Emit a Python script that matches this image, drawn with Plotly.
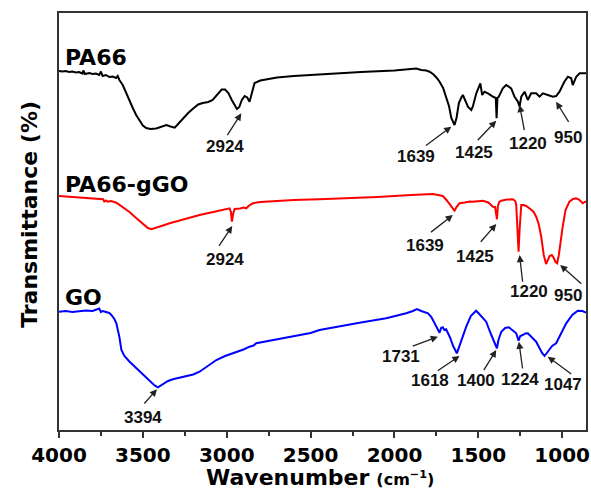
import plotly.graph_objects as go

# ---------------- data (wavenumber cm-1, transmittance a.u., offset stacked) -------------
pa66_wn = [4000, 3980, 3960, 3940, 3920, 3900, 3880, 3860, 3855, 3845, 3820, 3800, 3780, 3760, 3750,
           3740, 3720, 3700, 3680, 3660, 3650, 3640, 3620, 3600, 3580, 3560, 3540, 3520, 3500, 3480,
           3454, 3420, 3390, 3360, 3335, 3310, 3290, 3260, 3230, 3200, 3170, 3143, 3110, 3084, 3055,
           3030, 3010, 2990, 2970, 2950, 2939, 2925, 2910, 2893, 2878, 2864, 2850, 2834, 2800, 2764,
           2700, 2600, 2500, 2400, 2200, 2000, 1900, 1870, 1840, 1810, 1791, 1770, 1750, 1731, 1710,
           1691, 1675, 1661, 1650, 1642, 1630, 1616, 1600, 1592, 1562, 1542, 1533, 1512, 1488, 1477,
           1463, 1443, 1413, 1396, 1391, 1386, 1378, 1354, 1334, 1304, 1284, 1264, 1254, 1244, 1224,
           1205, 1185, 1155, 1135, 1115, 1086, 1056, 1036, 1016, 987, 966, 946, 937, 916, 896,
           857]
pa66_t = [359, 358.5, 359, 358, 358.5, 357.5, 358, 356.5, 359.5, 356, 357, 356, 356.5, 355, 358.5,
          354, 355, 353, 353.5, 352, 354, 350, 345, 337, 329, 322, 315, 309, 304.5, 302,
          301, 301.5, 303.5, 305, 303.5, 302.3, 306, 312, 317, 321.5, 325.5, 327, 328, 330, 336,
          340.5, 340.5, 337, 330, 324, 321, 323, 330, 334, 332.5, 328.3, 337, 347, 349.5, 350.7,
          352.5, 354, 355, 356.5, 358, 359.5, 360.5, 361.5, 360, 359.5, 358.3, 356, 352.5, 348.3, 342,
          333.3, 324, 312, 307, 305, 312, 327, 333, 335, 323.3, 320, 323.3, 336.7, 346.7, 335,
          338.3, 336.7, 333.3, 332, 311.7, 332, 333.3, 341.7, 345, 341.7, 333.3, 328.3, 323.3, 333.3, 338.3,
          330, 336.7, 336.7, 333.3, 336.7, 335, 333.3, 334, 338.3, 348.3, 353.3, 351.7, 345, 353.3, 356.7,
          356.7]

ggo_wn = [4000, 3900, 3800, 3737, 3730, 3720, 3710, 3690, 3658, 3620, 3580, 3540, 3500, 3470, 3449,
          3420, 3380, 3340, 3250, 3162, 3080, 3023, 2983, 2975, 2969, 2962, 2953, 2920, 2900, 2883,
          2870, 2844, 2800, 2700, 2600, 2450, 2300, 2100, 1900, 1800, 1771, 1740, 1712, 1690, 1665,
          1650, 1642, 1630, 1612, 1580, 1550, 1533, 1500, 1473, 1440, 1413, 1400, 1393, 1389, 1383,
          1375, 1363, 1330, 1294, 1280, 1274, 1266, 1260, 1254, 1244, 1230, 1215, 1190, 1170, 1155,
          1140, 1125, 1110, 1096, 1085, 1075, 1062, 1050, 1040, 1030, 1020, 1010, 997, 980, 957,
          935, 917, 900, 885, 877, 866, 857]
ggo_t = [234, 233, 232, 230.7, 228.5, 229.5, 228.3, 229, 227.3, 223, 218, 212, 206, 202, 200.7,
         202, 204.5, 206.7, 211, 215, 218, 220, 221.7, 218, 208.3, 216, 221, 221.5, 222.5, 221.7,
         224, 226.7, 228, 229, 230, 230.7, 231.5, 233, 235, 235.5, 236, 235, 234, 230, 225,
         221, 219.3, 223, 226.7, 227.5, 228.5, 228.3, 229, 229.3, 227.5, 223.3, 223, 216, 210.7, 224,
         228, 229.3, 230.5, 230.7, 229, 225, 200, 178.3, 200, 225, 225, 224, 221, 218, 213.3,
         206, 193.3, 175, 166, 170, 174, 175, 172, 168, 166.7, 175, 188, 203.3, 220, 228.3,
         231, 231.7, 230.5, 228, 226.7, 228, 228.3]

go_wn = [4000, 3960, 3920, 3880, 3840, 3800, 3780, 3760, 3750, 3740, 3720, 3700, 3688, 3670, 3658,
         3640, 3628, 3610, 3579, 3540, 3499, 3460, 3430, 3410, 3380, 3350, 3321, 3261, 3200, 3162,
         3110, 3062, 3010, 2963, 2940, 2920, 2900, 2864, 2840, 2824, 2750, 2665, 2500, 2447, 2387,
         2200, 2049, 1960, 1930, 1890, 1866, 1840, 1800, 1780, 1761, 1745, 1731, 1722, 1712, 1702,
         1692, 1670, 1650, 1628, 1610, 1590, 1572, 1545, 1520, 1513, 1500, 1480, 1453, 1430, 1413,
         1400, 1389, 1380, 1363, 1340, 1318, 1295, 1274, 1260, 1250, 1235, 1220, 1205, 1180, 1155,
         1145, 1135, 1120, 1105, 1080, 1060, 1036, 1010, 976, 940, 907, 880, 857]
go_t = [118.3, 119, 118, 118.5, 119.5, 119, 120, 121.5, 118, 119, 118, 117, 115, 111, 106.7,
        93, 80, 74, 68.3, 62, 55, 49, 44.5, 42.7, 46, 49, 50.7, 53.3, 55.5, 58.3,
        64, 70, 74, 76.7, 78, 79, 80.5, 83.3, 84.5, 86.7, 89, 91.7, 97, 100, 102,
        107.5, 111.7, 115, 116.7, 119, 121, 119, 116.7, 113, 106.7, 101, 97.3, 102, 102.7, 100,
        100.7, 93, 84, 76.7, 85, 96, 103.3, 114, 119, 119.3, 117, 113, 108.3, 98, 90,
        86, 81.7, 90, 98.3, 102, 102.7, 100, 96.7, 89.3, 94, 95, 96.5, 96.7, 93, 88.3,
        85, 81.7, 77, 74, 80, 84, 86.7, 95, 106.7, 115, 119.3, 119, 117.3]

series_names = ["PA66", "PA66-gGO", "GO"]
series_colors = ["#000000", "#ff0000", "#0000ff"]
x_tickvals = [4000, 3500, 3000, 2500, 2000, 1500, 1000]

# peak labels: (label, head wn, head T, tail wn, tail T, text wn, text T)
peaks = [
    ("2924", 2913, 316.7, 3002, 293.3, 3012, 283.3),
    ("1639", 1661, 303.3, 1821, 283.3, 1870, 273.3),
    ("1425", 1393, 309.3, 1512, 288.3, 1528, 277.3),
    ("1220", 1254, 325.0, 1224, 298.3, 1205, 286.7),
    ("950", 1036, 328.3, 956, 306.7, 966, 292.7),
    ("2924", 2967, 204.0, 3052, 182.7, 3012, 170.7),
    ("1639", 1652, 215.0, 1791, 196.7, 1820, 185.0),
    ("1425", 1393, 206.0, 1493, 186.7, 1518, 174.0),
    ("1220", 1254, 175.0, 1235, 146.7, 1195, 138.3),
    ("950", 1012, 165.0, 877, 145.0, 966, 135.0),
    ("3394", 3416, 40.7, 3499, 25.0, 3499, 12.3),
    ("1731", 1741, 93.3, 1900, 83.3, 1963, 73.3),
    ("1618", 1612, 74.0, 1751, 58.3, 1791, 49.3),
    ("1400", 1393, 80.0, 1473, 58.3, 1516, 49.3),
    ("1224", 1258, 88.3, 1235, 60.0, 1254, 50.7),
    ("1047", 1086, 73.3, 937, 55.0, 996, 46.0),
]
name_pos = [(3978, 373), (3978, 246), (3978, 133)]

# ---------------- figure -------------
fig = go.Figure()
for wn, t, c in zip([pa66_wn, ggo_wn, go_wn], [pa66_t, ggo_t, go_t], series_colors):
    fig.add_trace(go.Scatter(x=wn, y=t, mode="lines", line=dict(color=c, width=2),
                             showlegend=False, hoverinfo="skip"))

BIG = "DejaVu Sans"
SMALL = "Liberation Sans, Arial"
ann = []
for name, (nx, ny) in zip(series_names, name_pos):
    ann.append(dict(x=nx, y=ny, xref="x", yref="y", text="<b>%s</b>" % name, showarrow=False,
                    xanchor="left", yanchor="middle", font=dict(family=BIG, size=22, color="#000")))
for lab, hx, hy, tx, ty, lx, ly in peaks:
    ann.append(dict(x=hx, y=hy, ax=tx, ay=ty, xref="x", yref="y", axref="x", ayref="y",
                    text="", showarrow=True, arrowhead=2, arrowsize=1.1, arrowwidth=1.3,
                    arrowcolor="#222", standoff=0, startstandoff=0))
    ann.append(dict(x=lx, y=ly, xref="x", yref="y", text="<b>%s</b>" % lab, showarrow=False,
                    xanchor="center", yanchor="middle", font=dict(family=SMALL, size=17, color="#111")))
ann.append(dict(x=0.495, y=-0.115, xref="paper", yref="paper", showarrow=False,
                xanchor="center", yanchor="middle",
                text="<b>Wavenumber</b> <span style='font-size:16px'><b>(cm<sup>\u22121</sup>)</b></span>",
                font=dict(family=BIG, size=22, color="#000")))
ann.append(dict(x=-0.055, y=0.516, xref="paper", yref="paper", showarrow=False, textangle=-90,
                xanchor="center", yanchor="middle", text="<b>Transmittance (%)</b>",
                font=dict(family=BIG, size=22, color="#000")))

fig.update_layout(
    width=591, height=493, margin=dict(l=59, r=5, t=13, b=63),
    paper_bgcolor="white", plot_bgcolor="white",
    annotations=ann,
    xaxis=dict(range=[4000, 858], tickvals=x_tickvals,
               ticktext=["<b>%d</b>" % v for v in x_tickvals],
               ticks="outside", ticklen=6, tickwidth=1.5, tickcolor="#333",
               minor=dict(ticks="outside", ticklen=4, tickwidth=1.5, tickcolor="#333", dtick=250, tick0=0),
               showline=True, linecolor="#333", linewidth=1.8, mirror=True, showgrid=False, zeroline=False,
               tickfont=dict(family=BIG, size=20, color="#000"), automargin=False),
    yaxis=dict(range=[0, 417], showticklabels=False, ticks="", showline=True, linecolor="#333",
               linewidth=1.8, mirror=True, showgrid=False, zeroline=False, automargin=False),
)
fig.write_html("out.html", config={"displayModeBar": False},
               post_script="document.body.style.margin='0';document.body.style.overflow='hidden';")
